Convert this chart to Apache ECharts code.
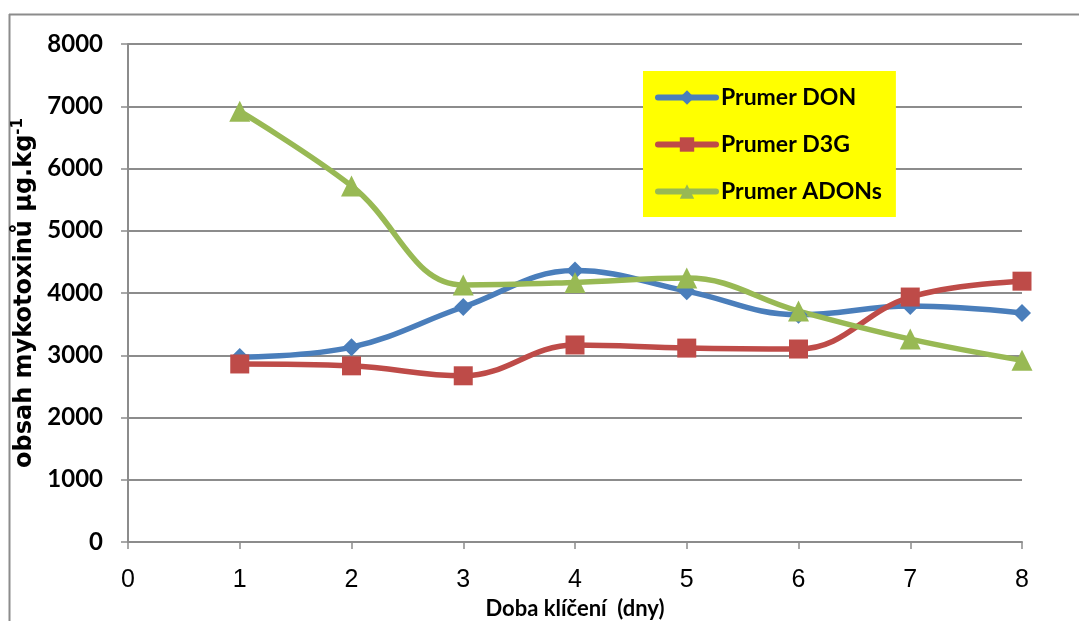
<!DOCTYPE html>
<html>
<head>
<meta charset="utf-8">
<script src="https://cdn.jsdelivr.net/npm/echarts@6/dist/echarts.min.js"></script>
<style>html,body{margin:0;padding:0;background:#fff;}#c{width:1079px;height:621px;}</style>
</head>
<body>
<div id="c"></div>
<script>
var days = [1, 2, 3, 4, 5, 6, 7, 8];
var seriesNames = ['Prumer DON', 'Prumer D3G', 'Prumer ADONs'];
var donValues = [2970, 3130, 3775, 4360, 4030, 3650, 3790, 3680];
var d3gValues = [2860, 2830, 2670, 3165, 3115, 3100, 3935, 4190];
var adonsValues = [6920, 5720, 4130, 4170, 4240, 3710, 3260, 2920];
var xTicks = [0, 1, 2, 3, 4, 5, 6, 7, 8];
var yTicks = [0, 1000, 2000, 3000, 4000, 5000, 6000, 7000, 8000];

function pairs(vals) { return days.map(function (d, i) { return [d, vals[i]]; }); }

var chart = echarts.init(document.getElementById('c'));
var gray = '#8c8c8c';
chart.setOption({
  animation: false,
  backgroundColor: '#fff',
  grid: { left: 128, right: 57, top: 44, bottom: 79, containLabel: false, outerBoundsMode: 'none' },
  graphic: [
    { type: 'line', shape: { x1: 9.5, y1: 14, x2: 9.5, y2: 621 }, style: { stroke: '#8c8c8c', lineWidth: 2 } },
    { type: 'line', shape: { x1: 9, y1: 14.5, x2: 1079, y2: 14.5 }, style: { stroke: '#8c8c8c', lineWidth: 2 } }
  ],
  legend: {
    orient: 'vertical',
    left: 643, top: 71,
    backgroundColor: '#ffff00',
    padding: [15, 14, 14, 12],
    itemWidth: 58, itemHeight: 18, itemGap: 24,
    lineStyle: { width: 6, cap: 'round' },
    data: seriesNames,
    textStyle: { fontFamily: 'Lato', fontWeight: 'bold', fontSize: 23, color: '#000', lineHeight: 23 }
  },
  xAxis: {
    type: 'value', min: 0, max: 8, interval: 1,
    name: 'Doba klíčení  (dny)', nameLocation: 'middle', nameGap: 56,
    nameTextStyle: { fontFamily: 'Lato', fontWeight: 'bold', fontSize: 22, color: '#000' },
    axisLine: { show: true, onZero: false, lineStyle: { color: gray, width: 2 } },
    axisTick: { show: true, inside: false, length: 7, lineStyle: { color: gray, width: 1.5 } },
    splitLine: { show: false },
    axisLabel: { margin: 26, fontFamily: 'Liberation Sans Narrow, Liberation Sans', fontSize: 25, color: '#000',
      formatter: function (v) { return xTicks.indexOf(v) >= 0 ? String(v) : ''; } }
  },
  yAxis: {
    type: 'value', min: 0, max: 8000, interval: 1000,
    name: '{a|obsah mykotoxinů µg.kg}{b|-1}', nameLocation: 'middle', nameGap: 76, nameRotate: 90,
    nameTextStyle: {
      rich: {
        a: { fontFamily: 'DejaVu Sans', fontWeight: 'bold', fontSize: 24, color: '#000', lineHeight: 28 },
        b: { fontFamily: 'DejaVu Sans', fontWeight: 'bold', fontSize: 15, color: '#000', verticalAlign: 'top', lineHeight: 28, padding: [0, 0, 10, 0] }
      }
    },
    axisLine: { show: true, lineStyle: { color: gray, width: 2 } },
    axisTick: { show: true, inside: false, length: 7, lineStyle: { color: gray, width: 1.5 } },
    splitLine: { show: true, lineStyle: { color: gray, width: 2 } },
    axisLabel: { margin: 25, fontFamily: 'Lato', fontWeight: 'bold', fontSize: 24, color: '#000',
      formatter: function (v) { return yTicks.indexOf(v) >= 0 ? String(v) : ''; } }
  },
  series: [
    { name: seriesNames[0], type: 'line', smooth: 0.4, data: pairs(donValues),
      symbol: 'diamond', symbolSize: 18, lineStyle: { width: 5.5, color: '#4a7ebb' }, itemStyle: { color: '#4a7ebb' } },
    { name: seriesNames[1], type: 'line', smooth: 0.4, data: pairs(d3gValues),
      symbol: 'rect', symbolSize: 19, lineStyle: { width: 5.5, color: '#be4b48' }, itemStyle: { color: '#be4b48' } },
    { name: seriesNames[2], type: 'line', smooth: 0.4, data: pairs(adonsValues),
      symbol: 'triangle', symbolSize: 21, lineStyle: { width: 5.5, color: '#98b954' }, itemStyle: { color: '#98b954' } }
  ]
});
</script>
</body>
</html>
